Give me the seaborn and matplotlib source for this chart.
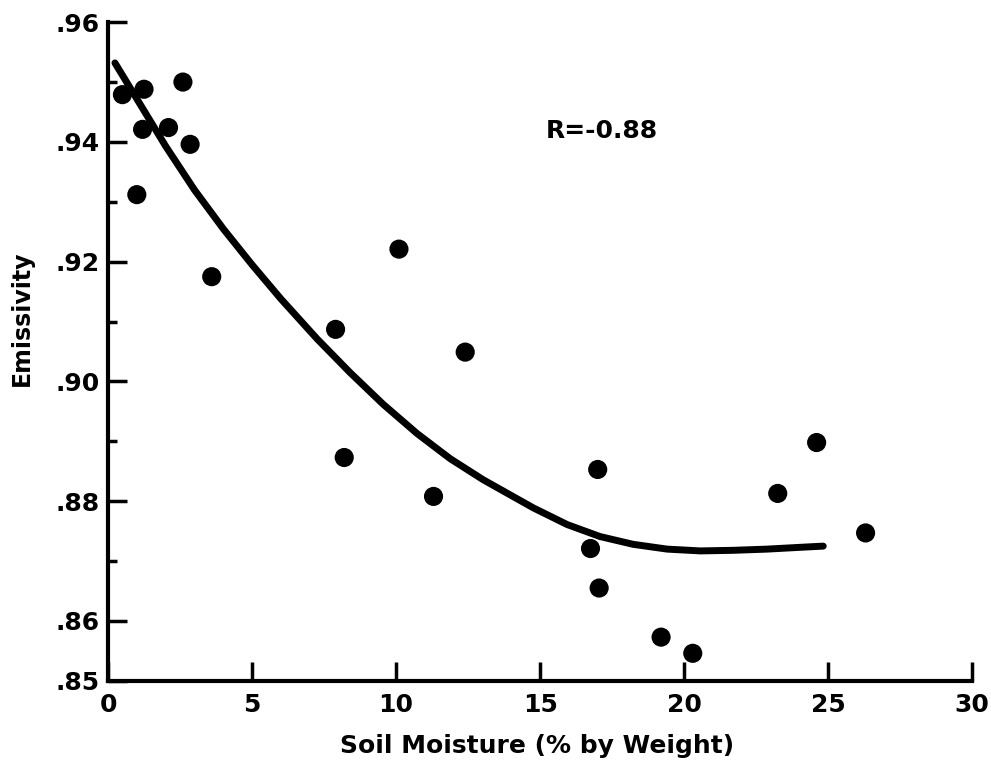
import numpy as np
import pandas as pd
import matplotlib
matplotlib.use("Agg")
import matplotlib.pyplot as plt
import seaborn as sns

# measured points (soil moisture %, emissivity)
moisture = [0.5, 1.25, 2.6, 1.2, 2.1, 2.85, 1.0, 3.6,
            10.1, 7.9, 12.4, 8.2, 11.3,
            17.0, 24.6, 23.25, 26.3, 16.75, 17.05, 19.2, 20.3]
emissivity = [0.9479, 0.9488, 0.9500, 0.9421, 0.9424, 0.9396, 0.9312, 0.9175,
              0.9221, 0.9087, 0.9049, 0.8873, 0.8808,
              0.8853, 0.8898, 0.8813, 0.8747, 0.8721, 0.8655, 0.8573, 0.8546]

# fitted curve
curve_x = [0.24, 1.0, 2.0, 3.0, 4.0, 5.0, 6.0, 7.26, 8.40, 9.55, 10.73,
           11.88, 13.02, 14.76, 15.94, 17.08, 18.23, 19.41, 20.56, 21.70,
           22.88, 24.03, 24.83]
curve_y = [0.9532, 0.9472, 0.9393, 0.9320, 0.9255, 0.9195, 0.9138, 0.9071,
           0.9015, 0.8962, 0.8913, 0.8871, 0.8836, 0.8789, 0.8761, 0.8741,
           0.8728, 0.8720, 0.8717, 0.8718, 0.8720, 0.8723, 0.8725]

x_ticks = [0, 5, 10, 15, 20, 25, 30]
y_ticks = [0.85, 0.86, 0.88, 0.90, 0.92, 0.94, 0.96]
y_tick_labels = [".85", ".86", ".88", ".90", ".92", ".94", ".96"]
y_minor = [0.87, 0.89, 0.91, 0.93, 0.95]

pts = pd.DataFrame({"moisture": moisture, "emissivity": emissivity})
fit = pd.DataFrame({"moisture": curve_x, "emissivity": curve_y})

sns.set_style("ticks")
plt.rcParams["font.family"] = ["DejaVu Sans"]
plt.rcParams["font.weight"] = "bold"
for key in ["text.color", "axes.labelcolor", "xtick.color", "ytick.color",
            "axes.edgecolor"]:
    plt.rcParams[key] = "black"

fig = plt.figure(figsize=(9.91, 7.65), dpi=100)
ax = fig.add_axes([0.109, 0.110, 0.872, 0.861])

sns.lineplot(data=fit, x="moisture", y="emissivity", ax=ax,
             color="black", linewidth=5, sort=False,
             solid_capstyle="round", solid_joinstyle="round")
sns.scatterplot(data=pts, x="moisture", y="emissivity", ax=ax,
                color="black", s=190, edgecolor="none", zorder=3)

ax.set_xlim(0, 30)
ax.set_ylim(0.85, 0.96)
ax.set_xticks(x_ticks)
ax.set_xticklabels([str(t) for t in x_ticks])
ax.set_yticks(y_ticks)
ax.set_yticklabels(y_tick_labels)
ax.set_yticks(y_minor, minor=True)

for side in ["top", "right"]:
    ax.spines[side].set_visible(False)
for side in ["left", "bottom"]:
    ax.spines[side].set_linewidth(3)
    ax.spines[side].set_color("black")

ax.tick_params(axis="both", which="major", direction="in", length=14,
               width=2.5, color="black", labelsize=18, labelcolor="black")
ax.tick_params(axis="x", which="minor", bottom=False)
ax.tick_params(axis="y", which="minor", direction="in", length=6.5,
               width=2.5, color="black")
ax.tick_params(axis="x", pad=9)
ax.tick_params(axis="y", pad=6)
for lbl in ax.get_xticklabels() + ax.get_yticklabels():
    lbl.set_fontweight("bold")

ax.set_xlabel("Soil Moisture (% by Weight)", fontsize=18, fontweight="bold",
              color="black")
ax.xaxis.set_label_coords(0.497, -0.080)
ax.set_ylabel("Emissivity", fontsize=17, fontweight="bold", color="black")
ax.yaxis.set_label_coords(-0.086, 0.551)

ax.text(15.2, 0.9419, "R=-0.88", fontsize=18, fontweight="bold",
        va="center", ha="left", color="black")

fig.savefig("out.png", dpi=100)
